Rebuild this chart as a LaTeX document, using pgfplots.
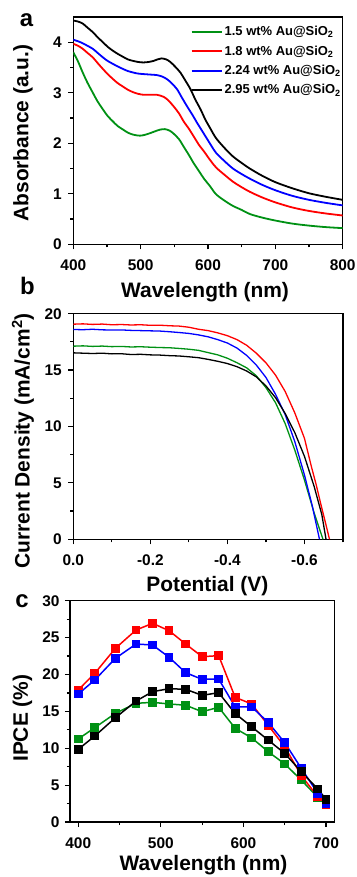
\documentclass[border=0pt]{standalone}
\usepackage{fontspec}
\setmainfont{Liberation Sans}
\usepackage{pgfplots}
\pgfplotsset{compat=1.18}
\definecolor{cgreen}{RGB}{0,145,20}
\definecolor{cred}{RGB}{255,0,0}
\definecolor{cblue}{RGB}{0,0,255}
\pgfplotsset{
  panel/.style={
    scale only axis, anchor=south west,
    tick pos=left, tick align=outside,
    major tick length=5bp, minor tick length=3bp,
    axis line style={line width=1.2bp},
    every tick/.style={black, line width=1.2bp},
    tick label style={font=\fontsize{15.5}{16}\selectfont\bfseries},
    xticklabel style={yshift=-7bp},
    yticklabel style={xshift=-3bp},
    /pgf/number format/assume math mode=true,
    label style={font=\fontsize{21}{22}\selectfont\bfseries},
    xlabel style={anchor=center},
    ylabel style={anchor=center},
  },
  legaxis/.style={
    scale only axis, anchor=south west, hide axis,
    at={(73.3bp,632.7bp)}, width=269.4bp, height=227.3bp,
    xmin=0, xmax=1, ymin=0, ymax=1,
    legend style={draw=none, fill=none, at={(axis description cs:0.435,#1)}, anchor=west,
      font=\fontsize{13}{14}\selectfont\bfseries, inner sep=0pt},
    legend cell align=left,
    legend image code/.code={\draw[##1, line width=2bp] (0bp,0bp) -- (30bp,0bp);},
  }
}
\begin{document}
\begin{tikzpicture}
\useasboundingbox (0bp,0bp) rectangle (357bp,877bp);
% ---------------- panel a
\begin{axis}[panel, at={(73.3bp,632.7bp)}, width=269.4bp, height=227.3bp,
  xmin=400, xmax=800, ymin=0, ymax=4.5,
  xtick={400,500,600,700,800}, minor xtick={450,550,650,750},
  ytick={0,1,2,3,4}, minor ytick={0.5,1.5,2.5,3.5},
  xlabel={Wavelength (nm)}, ylabel={Absorbance (a.u.)},
  xlabel style={at={(axis description cs:0.489,-0.21)}},
  ylabel style={at={(axis description cs:-0.187,0.489)}},
  every axis plot/.append style={line width=1.8bp, smooth}
]
\addplot[cgreen] coordinates {(400,3.80) (407,3.62) (414,3.40) (421,3.20) (429,3.00) (436,2.83) (444,2.67) (451,2.54) (459,2.43) (466,2.34) (474,2.27) (481,2.21) (489,2.17) (499,2.15) (507,2.17) (514,2.20) (522,2.24) (529,2.27) (536,2.28) (543,2.25) (549,2.19) (557,2.08) (564,1.93) (572,1.76) (579,1.60) (587,1.44) (594,1.30) (603,1.15) (612,0.99) (625,0.86) (637,0.76) (650,0.68) (662,0.60) (680,0.53) (700,0.47) (725,0.41) (750,0.37) (775,0.34) (800,0.32)};
\addplot[cred] coordinates {(400,3.97) (407,3.93) (414,3.87) (421,3.79) (429,3.70) (436,3.59) (444,3.47) (451,3.37) (459,3.27) (466,3.19) (474,3.12) (481,3.06) (489,3.01) (496,2.98) (504,2.96) (514,2.96) (524,2.96) (534,2.92) (541,2.85) (549,2.73) (557,2.59) (564,2.43) (572,2.28) (579,2.13) (587,1.96) (594,1.84) (603,1.67) (612,1.52) (625,1.37) (637,1.24) (650,1.13) (662,1.04) (680,0.93) (700,0.83) (725,0.73) (750,0.66) (775,0.61) (800,0.57)};
\addplot[cblue] coordinates {(400,4.05) (407,4.02) (414,3.98) (421,3.93) (429,3.87) (436,3.79) (444,3.70) (451,3.63) (459,3.57) (466,3.52) (474,3.47) (481,3.43) (489,3.40) (496,3.38) (504,3.37) (514,3.36) (524,3.35) (532,3.32) (539,3.27) (546,3.19) (554,3.07) (561,2.91) (569,2.73) (577,2.56) (584,2.40) (591,2.25) (598,2.10) (605,1.95) (612,1.81) (625,1.64) (637,1.50) (650,1.39) (662,1.30) (680,1.18) (700,1.07) (725,0.96) (750,0.88) (775,0.82) (800,0.77)};
\addplot[black] coordinates {(400,4.43) (407,4.41) (414,4.37) (421,4.29) (429,4.20) (436,4.10) (444,4.00) (451,3.91) (459,3.83) (466,3.77) (474,3.71) (481,3.66) (489,3.63) (496,3.61) (504,3.60) (512,3.61) (519,3.63) (525,3.66) (531,3.68) (538,3.66) (544,3.61) (551,3.52) (559,3.40) (566,3.25) (574,3.07) (581,2.87) (589,2.67) (596,2.47) (604,2.28) (612,2.10) (625,1.90) (637,1.74) (650,1.61) (662,1.50) (680,1.36) (700,1.23) (725,1.11) (750,1.01) (775,0.94) (800,0.88)};
\end{axis}
% legend rows of panel a (one hidden axis per row)
\begin{axis}[legaxis=0.935]
\addlegendimage{cgreen}
\addlegendentry{1.5 wt\% Au@SiO\textsubscript{2}}
\end{axis}
\begin{axis}[legaxis=0.849]
\addlegendimage{cred}
\addlegendentry{1.8 wt\% Au@SiO\textsubscript{2}}
\end{axis}
\begin{axis}[legaxis=0.764]
\addlegendimage{cblue}
\addlegendentry{2.24 wt\% Au@SiO\textsubscript{2}}
\end{axis}
\begin{axis}[legaxis=0.679]
\addlegendimage{black}
\addlegendentry{2.95 wt\% Au@SiO\textsubscript{2}}
\end{axis}
% ---------------- panel b
\begin{axis}[panel, at={(73.3bp,337.7bp)}, width=269.7bp, height=225.6bp,
  x dir=reverse, xmin=-0.7, xmax=0, ymin=0, ymax=20,
  xtick={0,-0.2,-0.4,-0.6}, xticklabels={0.0,-0.2,-0.4,-0.6},
  minor xtick={-0.1,-0.3,-0.5,-0.7},
  ytick={0,5,10,15,20}, minor ytick={2.5,7.5,12.5,17.5},
  xlabel={Potential (V)}, ylabel={Current Density (mA/cm\textsuperscript{2})},
  xlabel style={at={(axis description cs:0.497,-0.207)}},
  ylabel style={at={(axis description cs:-0.187,0.436)}},
  every axis plot/.append style={line width=1.3bp}
]
\addplot[cgreen] coordinates {(0,17.12) (-0.025,17.15) (-0.05,17.10) (-0.075,17.13) (-0.1,17.08) (-0.125,17.10) (-0.15,17.05) (-0.175,17.07) (-0.2,17.03) (-0.225,17.00) (-0.25,16.98) (-0.275,16.92) (-0.3,16.85) (-0.325,16.75) (-0.35,16.55) (-0.375,16.35) (-0.4,16.05) (-0.425,15.65) (-0.45,15.20) (-0.475,14.50) (-0.5,13.45) (-0.525,12.10) (-0.55,10.25) (-0.575,7.90) (-0.6,5.25) (-0.625,2.35) (-0.648,0)};
\addplot[cred] coordinates {(0,19.07) (-0.025,19.10) (-0.05,19.05) (-0.075,19.08) (-0.1,19.02) (-0.125,19.04) (-0.15,19.00) (-0.175,19.02) (-0.2,18.97) (-0.225,18.98) (-0.25,18.93) (-0.275,18.90) (-0.3,18.80) (-0.325,18.62) (-0.35,18.50) (-0.375,18.30) (-0.4,18.05) (-0.425,17.70) (-0.45,17.20) (-0.475,16.50) (-0.5,15.65) (-0.525,14.55) (-0.55,13.10) (-0.575,11.20) (-0.6,8.95) (-0.618,6.44) (-0.63,4.90) (-0.644,2.90) (-0.655,1.40) (-0.665,0)};
\addplot[cblue] coordinates {(0,18.60) (-0.025,18.58) (-0.05,18.62) (-0.075,18.57) (-0.1,18.55) (-0.125,18.56) (-0.15,18.52) (-0.175,18.50) (-0.2,18.48) (-0.225,18.46) (-0.25,18.40) (-0.275,18.33) (-0.3,18.25) (-0.325,18.12) (-0.35,17.95) (-0.375,17.70) (-0.4,17.40) (-0.425,16.95) (-0.45,16.30) (-0.475,15.45) (-0.5,14.35) (-0.525,12.85) (-0.55,11.05) (-0.575,8.65) (-0.6,5.70) (-0.62,3.00) (-0.639,0)};
\addplot[black] coordinates {(0,16.53) (-0.025,16.50) (-0.05,16.47) (-0.075,16.50) (-0.1,16.44) (-0.125,16.45) (-0.15,16.38) (-0.175,16.40) (-0.2,16.35) (-0.225,16.33) (-0.25,16.28) (-0.275,16.25) (-0.3,16.18) (-0.325,16.10) (-0.35,15.95) (-0.375,15.78) (-0.4,15.58) (-0.425,15.30) (-0.45,14.92) (-0.475,14.40) (-0.5,13.60) (-0.525,12.55) (-0.55,11.15) (-0.575,9.45) (-0.6,7.35) (-0.625,4.70) (-0.645,2.20) (-0.656,0)};
\end{axis}
% ---------------- panel c
\begin{axis}[panel, at={(70bp,55bp)}, width=264.3bp, height=221.3bp,
  xmin=390, xmax=710, ymin=0, ymax=30,
  xtick={400,500,600,700}, minor xtick={450,550,650},
  ytick={0,5,10,15,20,25,30}, minor ytick={2.5,7.5,12.5,17.5,22.5,27.5},
  yticklabel style={xshift=1bp},
  xlabel={Wavelength (nm)}, ylabel={IPCE (\%)},
  xlabel style={at={(axis description cs:0.505,-0.194)}},
  ylabel style={at={(axis description cs:-0.18,0.469)}},
  every axis plot/.append style={line width=1.5bp, mark=square*, mark size=3.6bp}
]
\addplot[cgreen, mark options={fill=cgreen}] coordinates {(400,11.25) (420,12.79) (445,14.73) (470,16.09) (490,16.22) (510,16.00) (530,15.83) (550,14.95) (570,15.55) (590,12.70) (610,11.40) (630,9.53) (650,7.86) (670,5.69) (690,3.35) (700,3.00)};
\addplot[cred, mark options={fill=cred}] coordinates {(400,17.90) (420,20.15) (445,23.55) (470,26.03) (490,26.93) (510,25.93) (530,24.13) (550,22.41) (570,22.55) (590,16.90) (610,16.00) (630,13.10) (650,10.20) (670,6.30) (690,3.43) (700,2.30)};
\addplot[cblue, mark options={fill=cblue}] coordinates {(400,17.35) (420,19.25) (445,22.19) (470,24.13) (490,23.99) (510,22.33) (530,20.24) (550,19.34) (570,19.38) (590,15.60) (610,15.60) (630,13.50) (650,10.75) (670,7.28) (690,3.89) (700,2.53)};
\addplot[black, mark options={fill=black}] coordinates {(400,9.85) (420,11.66) (445,14.14) (470,16.40) (490,17.67) (510,18.07) (530,17.99) (550,17.17) (570,17.53) (590,14.70) (610,12.90) (630,11.10) (650,9.30) (670,6.82) (690,4.47) (700,3.07)};
\end{axis}
% panel letters
\node[font=\fontsize{24}{24}\selectfont\bfseries, anchor=base] at (26.5bp,850.3bp) {a};
\node[font=\fontsize{24}{24}\selectfont\bfseries, anchor=base] at (27.5bp,582bp) {b};
\node[font=\fontsize{24}{24}\selectfont\bfseries, anchor=base] at (22bp,269.7bp) {c};
\end{tikzpicture}
\end{document}
